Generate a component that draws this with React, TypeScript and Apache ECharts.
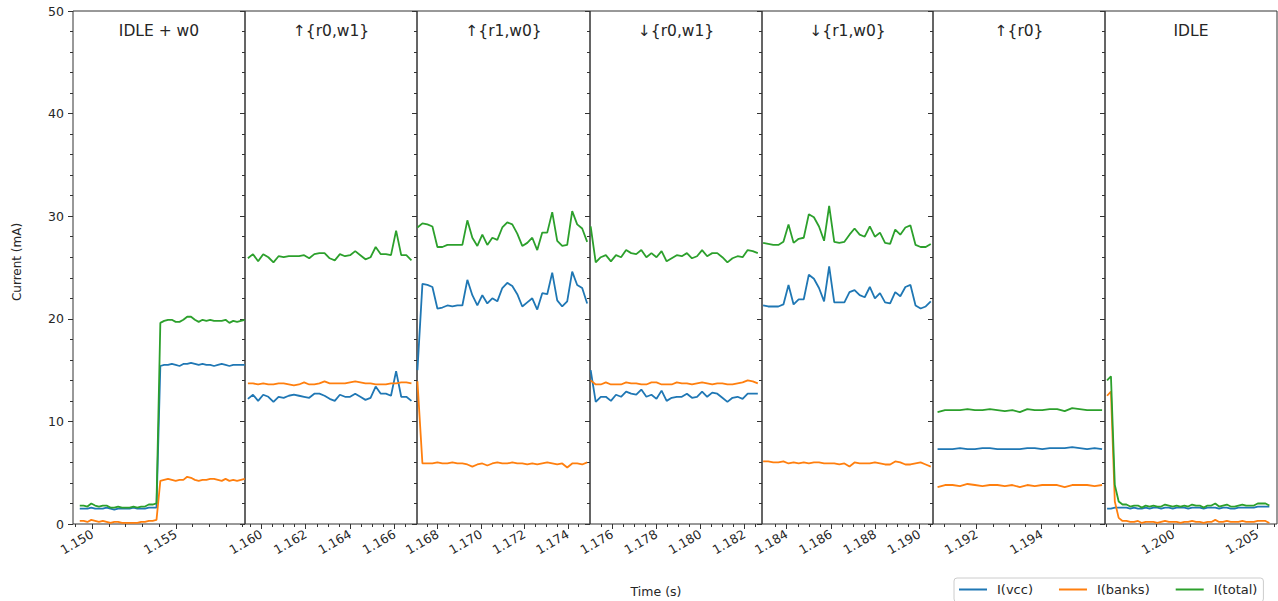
import React, { useEffect, useRef } from "react";
import * as echarts from "echarts";

// ---------------- data ----------------
const SERIES_NAMES = ["I(vcc)", "I(banks)", "I(total)"];
const PANEL_TITLES = ["IDLE + w0", "↑{r0,w1}", "↑{r1,w0}", "↓{r0,w1}", "↓{r1,w0}", "↑{r0}", "IDLE"];
const SAMPLE_PERIOD = 0.00023; // s
const PANEL_T0 = [1.149245, 1.1594, 1.16707, 1.17502, 1.18293, 1.1908, 1.196054];
const PANEL_X_MIN = [1.14884, 1.15927, 1.16705, 1.17499, 1.18288, 1.19066, 1.19593];
const PANEL_X_MAX = [1.15915, 1.16701, 1.17502, 1.1828, 1.19062, 1.19595, 1.20617];

const MAJOR_TICKS = [
  [1.15, 1.155],
  [1.16, 1.162, 1.164, 1.166],
  [1.168, 1.17, 1.172, 1.174],
  [1.176, 1.178, 1.18, 1.182],
  [1.184, 1.186, 1.188, 1.19],
  [1.192, 1.194],
  [1.2, 1.205],
];
const MINOR_TICKS = [
  [1.149, 1.151, 1.152, 1.153, 1.154, 1.156, 1.157, 1.158, 1.159],
  [1.1595, 1.1605, 1.161, 1.1615, 1.1625, 1.163, 1.1635, 1.1645, 1.165, 1.1655, 1.1665],
  [1.1675, 1.1685, 1.169, 1.1695, 1.1705, 1.171, 1.1715, 1.1725, 1.173, 1.1735, 1.1745],
  [1.1755, 1.1765, 1.177, 1.1775, 1.1785, 1.179, 1.1795, 1.1805, 1.181, 1.1815, 1.1825],
  [1.1835, 1.1845, 1.185, 1.1855, 1.1865, 1.187, 1.1875, 1.1885, 1.189, 1.1895, 1.1905],
  [1.191, 1.1915, 1.1925, 1.193, 1.1935, 1.1945, 1.195, 1.1955],
  [1.196, 1.197, 1.198, 1.199, 1.201, 1.202, 1.203, 1.204, 1.206],
];
const Y_TICKS = [0, 10, 20, 30, 40, 50];

// panel 1: IDLE + w0
const vcc1 = [1.5,1.5,1.5,1.6,1.5,1.5,1.5,1.6,1.5,1.4,1.5,1.5,1.5,1.5,1.6,1.5,1.5,1.5,1.6,1.6,1.6,15.4,15.5,15.5,15.6,15.5,15.4,15.6,15.6,15.7,15.6,15.5,15.6,15.5,15.5,15.4,15.5,15.6,15.5,15.4,15.5,15.5,15.5,15.5];
const banks1 = [0.3,0.3,0.2,0.4,0.3,0.2,0.3,0.2,0.1,0.2,0.2,0.1,0.1,0.1,0.1,0.1,0.2,0.2,0.3,0.3,0.4,4.2,4.3,4.4,4.3,4.2,4.3,4.3,4.6,4.5,4.3,4.2,4.3,4.3,4.4,4.4,4.3,4.2,4.4,4.2,4.3,4.2,4.3,4.4];
const total1 = [1.8,1.8,1.7,2.0,1.8,1.7,1.8,1.8,1.6,1.6,1.7,1.6,1.6,1.6,1.7,1.6,1.7,1.7,1.9,1.9,2.0,19.6,19.8,19.9,19.9,19.7,19.7,19.9,20.2,20.2,19.9,19.7,19.9,19.8,19.9,19.8,19.8,19.8,19.9,19.6,19.8,19.7,19.8,19.9];
// panel 2: up {r0,w1}
const vcc2 = [12.2,12.6,12.0,12.6,12.4,11.9,12.4,12.3,12.5,12.6,12.5,12.4,12.3,12.7,12.7,12.5,12.2,12.0,12.6,12.4,12.4,12.7,12.4,12.1,12.3,13.4,12.7,12.7,12.5,14.9,12.4,12.4,12.0];
const banks2 = [13.7,13.7,13.6,13.7,13.6,13.6,13.7,13.7,13.6,13.5,13.6,13.8,13.6,13.6,13.7,13.9,13.7,13.7,13.7,13.7,13.8,13.9,13.8,13.7,13.7,13.6,13.6,13.6,13.7,13.7,13.8,13.8,13.7];
const total2 = [25.9,26.3,25.6,26.3,26.0,25.5,26.1,26.0,26.1,26.1,26.1,26.2,25.9,26.3,26.4,26.4,25.9,25.7,26.3,26.1,26.2,26.6,26.2,25.8,26.0,27.0,26.3,26.3,26.2,28.6,26.2,26.2,25.7];
// panel 3: up {r1,w0}
const vcc3 = [15.0,23.4,23.3,23.1,21.0,21.1,21.3,21.2,21.3,21.3,23.8,22.3,21.3,22.3,21.5,22.0,21.7,23.0,23.5,23.2,22.4,21.2,21.6,22.0,20.9,22.5,22.4,24.5,21.8,21.2,21.7,24.6,23.3,23.0,21.5];
const banks3 = [13.9,5.9,5.9,5.9,6.0,5.9,5.9,6.0,5.9,5.9,5.8,5.6,5.8,5.9,5.7,5.9,6.0,5.9,5.9,6.0,5.9,5.9,5.8,5.9,5.8,5.9,6.0,5.9,5.8,5.9,5.5,5.9,5.9,5.8,6.0];
const total3 = [28.9,29.3,29.2,29.0,27.0,27.0,27.2,27.2,27.2,27.2,29.6,27.9,27.1,28.2,27.2,27.9,27.7,28.9,29.4,29.2,28.3,27.1,27.4,27.9,26.7,28.4,28.4,30.4,27.6,27.1,27.2,30.5,29.2,28.8,27.5];
// panel 4: down {r0,w1}
const vcc4 = [15.0,11.9,12.4,12.4,12.0,12.6,12.4,12.9,12.7,12.6,13.1,12.4,12.6,12.2,13.0,12.0,12.3,12.4,12.4,12.7,12.3,12.4,12.9,12.4,12.8,12.7,12.3,11.9,12.3,12.4,12.2,12.7,12.7,12.7];
const banks4 = [14.0,13.6,13.6,13.8,13.6,13.6,13.6,13.8,13.7,13.7,13.6,13.6,13.8,13.8,13.6,13.6,13.6,13.8,13.7,13.7,13.6,13.7,13.8,13.7,13.6,13.7,13.7,13.6,13.6,13.7,13.8,14.0,13.9,13.7];
const total4 = [29.0,25.5,26.0,26.2,25.6,26.2,26.0,26.7,26.4,26.3,26.7,26.0,26.4,26.0,26.6,25.6,25.9,26.2,26.1,26.4,25.9,26.1,26.7,26.1,26.4,26.4,26.0,25.5,25.9,26.1,26.0,26.7,26.6,26.4];
// panel 5: down {r1,w0}
const vcc5 = [21.3,21.2,21.2,21.2,21.4,23.3,21.4,21.9,21.9,24.3,23.9,23.0,21.7,25.1,21.6,21.6,21.6,22.6,22.8,22.3,22.1,23.1,22.0,22.5,21.6,21.5,22.6,22.2,23.1,23.3,21.3,21.0,21.2,21.7];
const banks5 = [6.1,6.1,6.0,6.0,6.1,5.9,6.0,5.9,6.0,5.9,6.0,6.0,5.9,5.9,5.9,5.8,5.9,5.6,6.0,5.9,5.9,5.9,6.0,5.9,5.8,5.8,6.1,6.0,5.8,5.8,5.9,6.0,5.8,5.6];
const total5 = [27.4,27.3,27.2,27.2,27.5,29.2,27.4,27.8,27.9,30.2,29.9,29.0,27.6,31.0,27.5,27.4,27.5,28.2,28.8,28.2,28.0,29.0,28.0,28.4,27.4,27.3,28.7,28.2,28.9,29.1,27.2,27.0,27.0,27.3];
// panel 6: up {r0}
const vcc6 = [7.3,7.3,7.3,7.4,7.3,7.3,7.4,7.4,7.3,7.3,7.3,7.3,7.4,7.4,7.3,7.4,7.4,7.4,7.5,7.4,7.3,7.4,7.3];
const banks6 = [3.6,3.8,3.8,3.7,3.9,3.8,3.7,3.8,3.8,3.7,3.8,3.6,3.8,3.7,3.8,3.8,3.8,3.6,3.8,3.8,3.8,3.7,3.8];
const total6 = [10.9,11.1,11.1,11.1,11.2,11.1,11.1,11.2,11.1,11.0,11.1,10.9,11.2,11.1,11.1,11.2,11.2,11.0,11.3,11.2,11.1,11.1,11.1];
// panel 7: IDLE
const vcc7 = [1.5,1.5,1.6,1.6,1.6,1.6,1.5,1.6,1.5,1.5,1.6,1.5,1.6,1.6,1.5,1.6,1.6,1.5,1.6,1.6,1.6,1.5,1.6,1.6,1.6,1.5,1.6,1.6,1.6,1.5,1.6,1.6,1.5,1.5,1.6,1.6,1.6,1.6,1.6,1.7,1.7,1.7,1.7];
const banks7 = [12.5,12.9,2.2,0.6,0.3,0.3,0.2,0.2,0.3,0.1,0.2,0.2,0.2,0.1,0.2,0.3,0.2,0.2,0.2,0.1,0.2,0.2,0.3,0.2,0.2,0.1,0.2,0.2,0.4,0.2,0.2,0.3,0.2,0.2,0.2,0.3,0.2,0.2,0.2,0.3,0.3,0.3,0.1];
const total7 = [14.0,14.4,3.8,2.2,1.9,1.9,1.7,1.8,1.8,1.6,1.8,1.7,1.8,1.7,1.7,1.9,1.8,1.7,1.8,1.7,1.8,1.7,1.9,1.8,1.8,1.6,1.8,1.8,2.0,1.7,1.8,1.9,1.7,1.7,1.8,1.9,1.8,1.8,1.8,2.0,2.0,2.0,1.8];

const PANEL_VALUES = [
  [vcc1, banks1, total1],
  [vcc2, banks2, total2],
  [vcc3, banks3, total3],
  [vcc4, banks4, total4],
  [vcc5, banks5, total5],
  [vcc6, banks6, total6],
  [vcc7, banks7, total7],
];

// ---------------- layout / style ----------------
const GRID_LEFT = [73, 245, 417, 590, 762, 933, 1105];
const GRID_WIDTH = [172, 172, 173, 172, 171, 172, 172];
const GRID_TOP = 11;
const GRID_HEIGHT = 513;
const COLORS = ["#1f77b4", "#ff7f0e", "#2ca02c"];
const FONT = "'DejaVu Sans', sans-serif";
const INK = "#262626";
const SPINE = "#333333";

function buildOption() {
  const grid: any[] = [];
  const xAxis: any[] = [];
  const yAxis: any[] = [];
  const series: any[] = [];
  const graphic: any[] = [];

  PANEL_TITLES.forEach((title, p) => {
    grid.push({
      left: GRID_LEFT[p],
      top: GRID_TOP,
      width: GRID_WIDTH[p],
      height: GRID_HEIGHT,
      show: true,
      borderColor: SPINE,
      borderWidth: 1,
      backgroundColor: "transparent",
    });
    // major x axis
    xAxis.push({
      type: "value",
      gridIndex: p,
      position: "bottom",
      min: PANEL_X_MIN[p],
      max: PANEL_X_MAX[p],
      axisLine: { show: false },
      splitLine: { show: false },
      axisTick: {
        show: true,
        inside: false,
        length: 5,
        customValues: MAJOR_TICKS[p],
        lineStyle: { color: SPINE, width: 1 },
      },
      axisLabel: {
        show: true,
        rotate: 30,
        margin: 9,
        customValues: MAJOR_TICKS[p],
        formatter: (v: number) => v.toFixed(3),
        fontFamily: FONT,
        fontSize: 12.5,
        color: INK,
        hideOverlap: false,
      },
    });
    // minor x ticks
    xAxis.push({
      type: "value",
      gridIndex: p,
      position: "bottom",
      offset: 0,
      min: PANEL_X_MIN[p],
      max: PANEL_X_MAX[p],
      axisLine: { show: false },
      splitLine: { show: false },
      axisLabel: { show: false },
      axisTick: {
        show: true,
        length: 3,
        customValues: MINOR_TICKS[p],
        lineStyle: { color: SPINE, width: 1 },
      },
    });
    yAxis.push({
      type: "value",
      gridIndex: p,
      position: "left",
      min: 0,
      max: 50,
      interval: 10,
      axisLine: { show: false },
      splitLine: { show: false },
      axisTick: { show: true, length: 5, lineStyle: { color: SPINE, width: 1 } },
      minorTick: { show: true, splitNumber: 5, length: 3, lineStyle: { color: SPINE, width: 1 } },
      axisLabel: {
        show: p === 0,
        margin: 9,
        fontFamily: FONT,
        fontSize: 12.5,
        color: INK,
        customValues: Y_TICKS,
      },
    });

    PANEL_VALUES[p].forEach((vals, s) => {
      series.push({
        name: SERIES_NAMES[s],
        type: "line",
        xAxisIndex: 2 * p,
        yAxisIndex: p,
        showSymbol: false,
        symbol: "none",
        lineStyle: { color: COLORS[s], width: 1.8 },
        itemStyle: { color: COLORS[s] },
        data: vals.map((v, i) => [PANEL_T0[p] + i * SAMPLE_PERIOD, v]),
        clip: true,
        z: 2 + s,
      });
    });

    graphic.push({
      type: "text",
      x: GRID_LEFT[p] + GRID_WIDTH[p] / 2,
      y: 31,
      style: {
        text: title,
        fill: INK,
        font: `15.5px ${FONT}`,
        textAlign: "center",
        textVerticalAlign: "middle",
      },
    });
  });

  graphic.push({
    type: "text",
    x: 17,
    y: 262,
    rotation: Math.PI / 2,
    style: {
      text: "Current (mA)",
      fill: INK,
      font: `12px ${FONT}`,
      textAlign: "center",
      textVerticalAlign: "middle",
    },
  });
  graphic.push({
    type: "text",
    x: 656,
    y: 591,
    style: {
      text: "Time (s)",
      fill: INK,
      font: `12.5px ${FONT}`,
      textAlign: "center",
      textVerticalAlign: "middle",
    },
  });

  return {
    animation: false,
    backgroundColor: "#ffffff",
    grid,
    xAxis,
    yAxis,
    series,
    graphic,
    legend: {
      data: SERIES_NAMES,
      left: 954,
      top: 578,
      padding: [5, 6, 6, 5],
      icon: "rect",
      itemWidth: 28,
      itemHeight: 2,
      itemGap: 26,
      borderColor: "#cccccc",
      borderWidth: 1,
      borderRadius: 3,
      textStyle: { fontFamily: FONT, fontSize: 13, color: INK, padding: [0, 0, 0, 5] },
      selectedMode: false,
    },
  };
}

export default function App() {
  const ref = useRef<HTMLDivElement>(null);
  useEffect(() => {
    const chart = echarts.init(ref.current!, null, { renderer: "svg" });
    chart.setOption(buildOption() as any);
    return () => chart.dispose();
  }, []);
  return (
    <div
      ref={ref}
      style={{ position: "fixed", left: 0, top: 0, width: 1278, height: 601, background: "#fff" }}
    />
  );
}
